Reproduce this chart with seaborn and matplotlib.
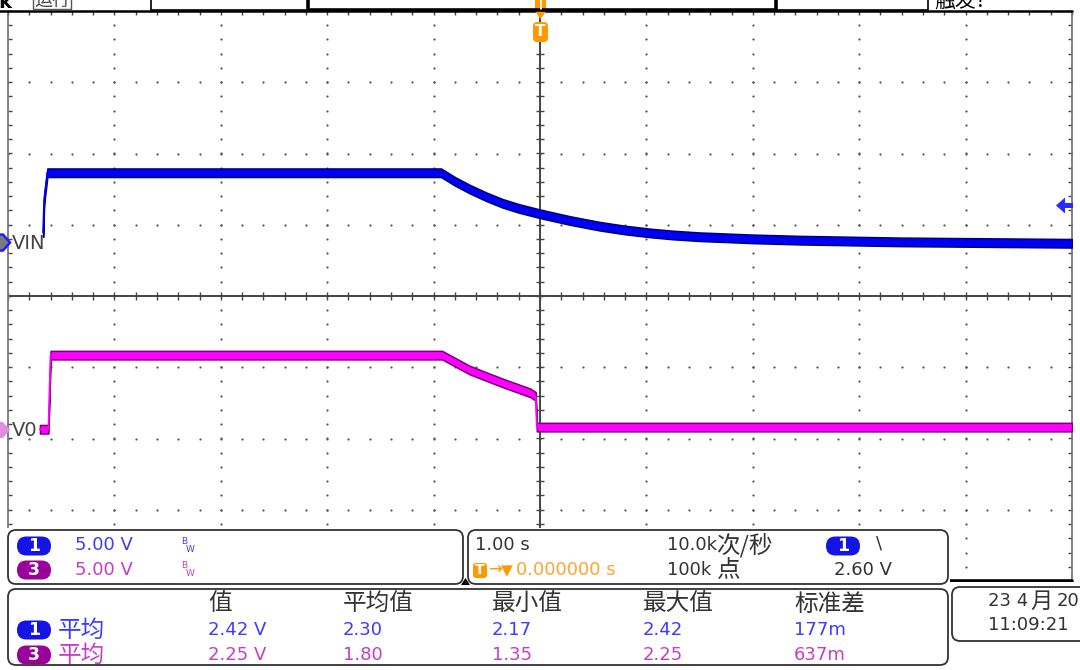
import numpy as np
import pandas as pd
import matplotlib.pyplot as plt
import seaborn as sns
from matplotlib.patches import FancyBboxPatch, Polygon, Rectangle

# 示波器截图: CH1 = VIN, CH3 = V0, 5 V/div, 1 s/div
VOLTS_PER_DIV = 5.0
CH1_OFFSET = 0.75      # 通道零点位置(格)
CH3_OFFSET = -1.88

vin_time = [-4.67, -4.66, -4.63, -0.93, -0.80, -0.66, -0.50, -0.35, -0.20, 0.00, 0.28, 0.56,
            0.80, 1.03, 1.25, 1.50, 2.00, 2.44, 3.38, 5.00]
vin_volt = [0.70, 3.00, 4.90, 4.90, 4.30, 3.75, 3.20, 2.75, 2.40, 2.02, 1.55, 1.15,
            0.88, 0.68, 0.53, 0.41, 0.26, 0.17, 0.05, -0.05]

vo_time = [-4.70, -4.62, -4.60, -0.92, -0.66, -0.35, -0.09, -0.04, -0.03, 5.00]
vo_volt = [0.05, 0.05, 5.25, 5.25, 4.20, 3.30, 2.60, 2.35, 0.20, 0.20]

trig_level = 2.60

meas_headers = ['值', '平均值', '最小值', '最大值', '标准差']
meas_ch1 = ['2.42 V', '2.30', '2.17', '2.42', '177m']
meas_ch3 = ['2.25 V', '1.80', '1.35', '2.25', '637m']
meas_x = [208, 343, 492, 643, 794]

BLUE = '#0000f5'
MAGENTA = '#ff00ff'
BLUE_TXT = '#3c3cff'
MAG_TXT = '#c83cc8'
ORANGE = '#ff9900'
DARK = '#333333'
CJK = ['Noto Sans CJK SC', 'DejaVu Sans']

sns.set_theme(style='white')
plt.rcParams['font.family'] = ['DejaVu Sans', 'Noto Sans CJK SC']

W, H = 1080, 670
fig = plt.figure(figsize=(W / 100, H / 100), dpi=100)
fig.patch.set_facecolor('white')

# 屏幕区域: 10 x 8 格
ax = fig.add_axes([8 / W, (H - 581) / H, 1064 / W, 570 / H])
ax.set_xlim(-5, 5)
ax.set_ylim(-4, 4)
ax.axis('off')

# 网格点
cols = [-4, -3, -2, -1, 1, 2, 3, 4]
rows = [-3, -2, -1, 1, 2, 3]
ys = np.arange(-4, 4.001, 0.2)
xs = np.arange(-5, 5.001, 0.2)
for c in cols:
    ax.plot(np.full_like(ys, c), ys, ls='none', marker='o', ms=1.6, color='#555555', mew=0)
for r in rows:
    ax.plot(xs, np.full_like(xs, r), ls='none', marker='o', ms=1.6, color='#555555', mew=0)

# 中心十字线和刻度
ax.axhline(0, color='#444444', lw=1.4)
ax.axvline(0, color='#444444', lw=1.4)
ax.vlines(xs, -0.05, 0.05, color='#444444', lw=1)
ax.hlines(ys, -0.035, 0.035, color='#444444', lw=1)
ax.vlines(xs, 4 - 0.06, 4, color='#444444', lw=1, clip_on=False)
ax.hlines(ys, -5, -5 + 0.04, color='#444444', lw=1, clip_on=False)
ax.hlines(ys, 5 - 0.04, 5, color='#444444', lw=1, clip_on=False)
ax.plot([-5, -5], [-4, 4], color='#777777', lw=1.3, clip_on=False)
ax.plot([5, 5], [-4, 4], color='#777777', lw=1.3, clip_on=False)
ax.plot([-5.1, 5], [4, 4], color='black', lw=1.8, clip_on=False)
ax.plot([-5, 5], [-4, -4], color='black', lw=2.6, clip_on=False)

# 波形
vin = pd.DataFrame({'t': vin_time, 'v': vin_volt})
vin['div'] = CH1_OFFSET + vin['v'] / VOLTS_PER_DIV
vo = pd.DataFrame({'t': vo_time, 'v': vo_volt})
vo['div'] = CH3_OFFSET + vo['v'] / VOLTS_PER_DIV

band = 0.06
ax.fill_between(vin['t'], vin['div'] - band, vin['div'] + band, color=BLUE,
                edgecolor='#00007a', linewidth=1.1, zorder=4)
sns.lineplot(data=vin, x='t', y='div', ax=ax, color=BLUE, linewidth=1.3, estimator=None, zorder=5)
ax.fill_between(vo['t'], vo['div'] - band, vo['div'] + band, color=MAGENTA,
                edgecolor='#7a007a', linewidth=1.1, zorder=4)
sns.lineplot(data=vo, x='t', y='div', ax=ax, color=MAGENTA, linewidth=1.3, estimator=None, zorder=5)
ax.set_xlim(-5, 5)
ax.set_ylim(-4, 4)
ax.axis('off')

# 叠加层: 像素坐标
ov = fig.add_axes([0, 0, 1, 1], zorder=5)
ov.set_xlim(0, W)
ov.set_ylim(H, 0)
ov.axis('off')
ov.patch.set_alpha(0)


def px_y(d):
    return 296 - d * 71.25


def txt(x, y, s, color=DARK, size=13, family=None, **kw):
    kw.setdefault('va', 'center')
    kw.setdefault('ha', 'left')
    if family:
        kw['family'] = family
    ov.text(x, y, s, color=color, fontsize=size, **kw)


def pill(x, y, label, face):
    ov.add_patch(FancyBboxPatch((x, y - 9.5), 34, 19, boxstyle='round,pad=0,rounding_size=9.5',
                                fc=face, ec='none'))
    txt(x + 17, y, label, color='white', size=12.5, ha='center', fontweight='bold')


# 顶部状态栏
ov.add_patch(Rectangle((151, -3), 777, 13, fill=False, ec='black', lw=1.2))
ov.plot([308, 308, 776, 776], [0, 10, 10, 0], color='black', lw=2.6)
txt(13, 3, 'Tek', color='black', size=14, ha='right', fontweight='bold')
ov.add_patch(Rectangle((33, -3), 38, 12, fill=False, ec='#555555', lw=1))
txt(52, 1, '运行', color='#444444', size=13, family=CJK, ha='center')
txt(934, 1, '触发?', color='black', size=15, family=CJK)

# 触发位置标记
ov.add_patch(Rectangle((535, -2), 11, 12, fc=ORANGE, ec='none'))
ov.plot([540.5, 540.5], [-2, 9], color='white', lw=1.2)
ov.add_patch(Polygon([(534, 10), (547, 10), (540.5, 19)], closed=True, fc=ORANGE, ec='none'))
ov.add_patch(FancyBboxPatch((533, 22), 15, 20, boxstyle='round,pad=0,rounding_size=4', fc=ORANGE, ec='none'))
txt(540.5, 32, 'T', color='white', size=11, ha='center', fontweight='bold')

# 通道零点标记
y1 = px_y(CH1_OFFSET)
ov.add_patch(Polygon([(-3, y1 - 8), (3, y1 - 8), (10, y1), (3, y1 + 8), (-3, y1 + 8)], closed=True,
                     fc='#7a7a7a', ec='#2020ff', lw=1.8))
txt(12, y1 + 1, 'VIN', color='#444444', size=14)
y3 = px_y(CH3_OFFSET)
ov.add_patch(Polygon([(-3, y3 - 8), (3, y3 - 8), (10, y3), (3, y3 + 8), (-3, y3 + 8)], closed=True,
                     fc='#e08ee0', ec='none'))
txt(12, y3 + 1, 'V0', color='#444444', size=14)

# 触发电平标记
yt = px_y(CH1_OFFSET + trig_level / VOLTS_PER_DIV)
ov.add_patch(Polygon([(1056, yt), (1065, yt - 8), (1065, yt - 2.5), (1073, yt - 2.5),
                      (1073, yt + 2.5), (1065, yt + 2.5), (1065, yt + 8)], closed=True,
                     fc='#2a2aff', ec='none'))

# 底部信息面板
ov.add_patch(Rectangle((0, 528), 950, H - 528, fc='white', ec='none'))
ov.add_patch(Rectangle((0, 582), W, H - 582, fc='white', ec='none'))
box = dict(boxstyle='round,pad=0,rounding_size=8', fc='white', ec=DARK, lw=1.3)
ov.add_patch(FancyBboxPatch((8, 530), 455, 54, **box))
ov.add_patch(FancyBboxPatch((468, 530), 480, 54, **box))
ov.add_patch(FancyBboxPatch((8, 589), 940, 76, **box))
ov.add_patch(FancyBboxPatch((952, 587), 140, 54, **box))
ov.add_patch(Polygon([(461, 585), (470, 585), (465.5, 578)], closed=True, fc='black', ec='none'))

pill(17, 546, '1', '#1414e6')
pill(17, 570, '3', '#9a009a')
txt(75, 545, '5.00 V', color=BLUE_TXT)
txt(75, 570, '5.00 V', color=MAG_TXT)
txt(181, 541, 'B', color=BLUE_TXT, size=6.5)
txt(186, 549, 'W', color=BLUE_TXT, size=6.5)
txt(181, 566, 'B', color=MAG_TXT, size=6.5)
txt(186, 574, 'W', color=MAG_TXT, size=6.5)

txt(475, 545, '1.00 s')
ov.add_patch(FancyBboxPatch((473, 563), 14, 15, boxstyle='round,pad=0,rounding_size=3', fc=ORANGE, ec='none'))
txt(480, 570.5, 'T', color='white', size=10, ha='center', fontweight='bold')
txt(488, 570, '→', color=ORANGE, size=12)
txt(501, 571, '▼', color=ORANGE, size=11)
txt(516, 570, '0.000000 s', color='#ffa530')
txt(667, 545, '10.0k')
txt(716, 545, '次/秒', size=17, family=CJK)
txt(667, 570, '100k')
txt(717, 570, '点', size=17, family=CJK)
pill(826, 546, '1', '#1414e6')
txt(876, 543, '\\', size=13)
txt(834, 570, '2.60 V')

for x, h in zip(meas_x, meas_headers):
    txt(x, 604, h, size=17, family=CJK)
pill(17, 630, '1', '#1414e6')
pill(17, 655, '3', '#9a009a')
txt(58, 630, '平均', color=BLUE_TXT, size=17, family=CJK)
txt(58, 655, '平均', color=MAG_TXT, size=17, family=CJK)
for x, a, b in zip(meas_x, meas_ch1, meas_ch3):
    txt(x, 630, a, color=BLUE_TXT)
    txt(x, 655, b, color=MAG_TXT)

txt(988, 601, '23 4', size=13)
txt(1030, 601, '月', size=16, family=CJK)
txt(1057, 601, '20', size=13)
txt(988, 625, '11:09:21', size=13)

fig.savefig('out.png', dpi=100, facecolor='white')
